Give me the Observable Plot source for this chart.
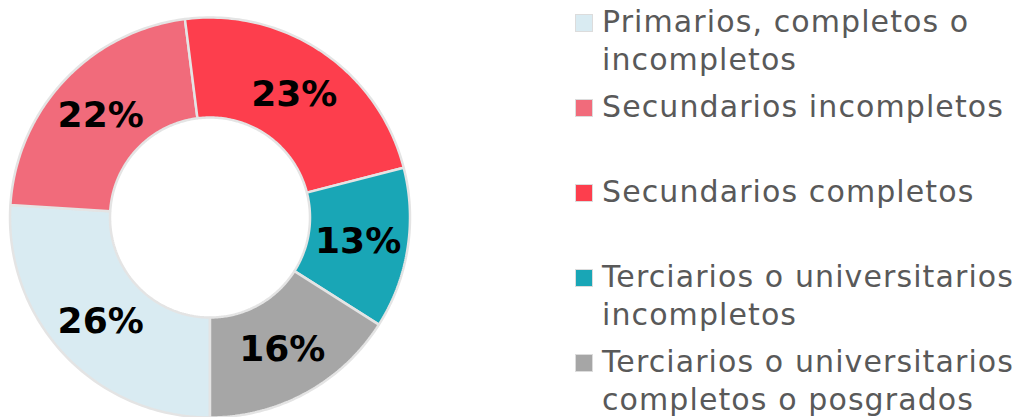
<!DOCTYPE html>
<html>
<head>
<meta charset="utf-8">
<script src="https://cdn.jsdelivr.net/npm/d3@7"></script>
<script src="https://cdn.jsdelivr.net/npm/@observablehq/plot@0.6"></script>
<style>
  html, body { margin: 0; padding: 0; background: #fff; }
  #wrap { position: relative; width: 1031px; height: 417px; overflow: hidden; }
  #chart svg { display: block; }
  #legend { position: absolute; left: 575px; top: 0; font-family: "DejaVu Sans", sans-serif; color: #595959; }
  .item { position: absolute; left: 0; width: 456px; }
  .sw { position: absolute; left: 0; top: 11px; width: 16px; height: 16px; border: 1.5px solid #dcdcdc; }
  .lab { position: absolute; left: 27px; top: 0; font-size: 30px; letter-spacing: 1.1px; line-height: 38px; white-space: nowrap; }
</style>
</head>
<body>
<div id="wrap">
  <div id="chart"></div>
  <div id="legend"></div>
</div>
<script>
const categories = [
  "Primarios, completos o incompletos",
  "Secundarios incompletos",
  "Secundarios completos",
  "Terciarios o universitarios incompletos",
  "Terciarios o universitarios completos o posgrados"
];
const legendLines = [
  ["Primarios, completos o", "incompletos"],
  ["Secundarios incompletos"],
  ["Secundarios completos"],
  ["Terciarios o universitarios", "incompletos"],
  ["Terciarios o universitarios", "completos o posgrados"]
];
const values = [26, 22, 23, 13, 16];
const colors = ["#d9ebf2", "#f16b7b", "#fd3e4d", "#19a6b6", "#a6a6a6"];

const W = 1031, H = 417, cx = 209.5, cy = 217, R = 200;
const innerRatio = 0.5;

const rows = categories.map((c, i) => ({key: c, value: values[i]}));
const arcs = d3.pie().sort(null).value(d => d.value).startAngle(Math.PI).endAngle(3 * Math.PI)(rows);

const pts = [];
for (const a of arcs) {
  const n = 80;
  for (let k = 0; k <= n; k++) {
    const t = a.startAngle + (a.endAngle - a.startAngle) * k / n;
    pts.push({key: a.data.key, x: Math.sin(t), y: Math.cos(t)});
  }
  for (let k = n; k >= 0; k--) {
    const t = a.startAngle + (a.endAngle - a.startAngle) * k / n;
    pts.push({key: a.data.key, x: innerRatio * Math.sin(t), y: innerRatio * Math.cos(t)});
  }
}
const labels = arcs.map(a => {
  const m = (a.startAngle + a.endAngle) / 2;
  const r = (1 + innerRatio) / 2;
  return {key: a.data.key, x: r * Math.sin(m), y: r * Math.cos(m), text: a.data.value + "%"};
});

const plot = Plot.plot({
  width: W, height: H, margin: 0,
  x: {domain: [-cx / R, (W - cx) / R], axis: null},
  y: {domain: [-(H - cy) / R, cy / R], axis: null},
  color: {domain: categories, range: colors},
  marks: [
    Plot.line(pts, {x: "x", y: "y", z: "key", fill: "key", stroke: "#e4e4e4", strokeWidth: 2.5, curve: "linear-closed", strokeLinejoin: "miter"}),
    Plot.text(labels, {x: "x", y: "y", text: "text", fill: "#000", fontSize: 36, fontWeight: "bold", fontFamily: "DejaVu Sans", textAnchor: "middle", dy: 1})
  ]
});
document.getElementById("chart").appendChild(plot);

const legend = document.getElementById("legend");
categories.forEach((c, i) => {
  const item = document.createElement("div");
  item.className = "item";
  item.style.top = (3 + 85 * i) + "px";
  const sw = document.createElement("div");
  sw.className = "sw";
  sw.style.background = colors[i];
  const lab = document.createElement("div");
  lab.className = "lab";
  lab.innerHTML = legendLines[i].join("<br>");
  item.appendChild(sw);
  item.appendChild(lab);
  legend.appendChild(item);
});
</script>
</body>
</html>
